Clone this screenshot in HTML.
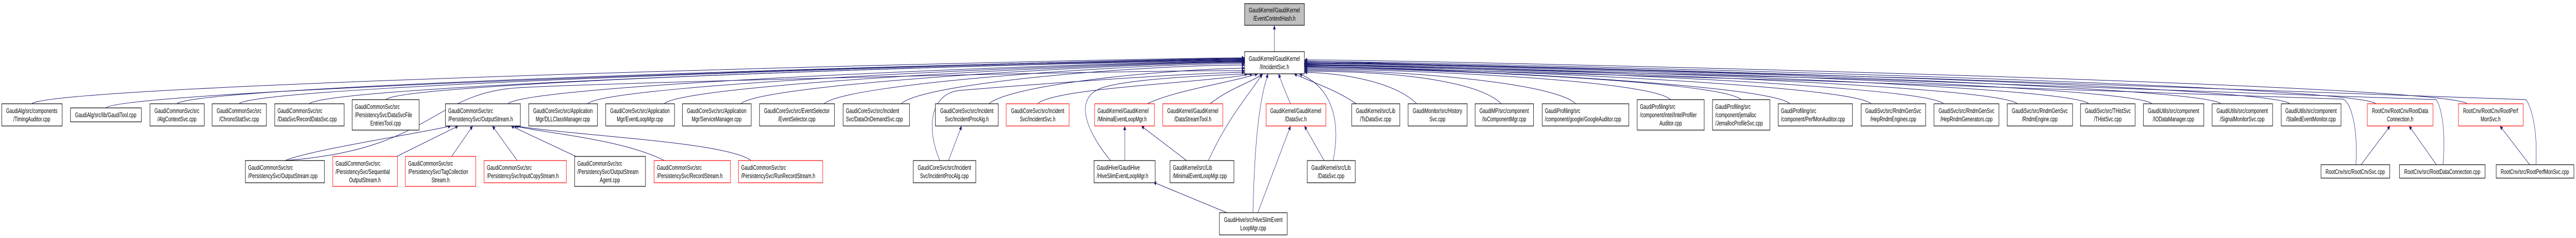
<!DOCTYPE html>
<html><head><meta charset="utf-8"><style>
html,body{margin:0;padding:0;background:#fff;width:100%;height:100%;overflow:hidden;}
svg{display:block;position:absolute;left:0;top:0;width:100%;height:100%;}
text{font-family:"Liberation Sans",Helvetica,Arial,sans-serif;font-size:13px;fill:#000;}
rect.n{fill:#fff;stroke:#000;stroke-width:1.2;}
rect.r{fill:#fff;stroke:#ff0000;stroke-width:1.2;}
path.e{fill:none;stroke:#191970;stroke-width:1;}
</style></head><body>
<svg viewBox="0 0 7455 461" preserveAspectRatio="none" xmlns="http://www.w3.org/2000/svg">
<defs><marker id="a" viewBox="0 0 10 10" refX="10" refY="5" markerWidth="10" markerHeight="8" markerUnits="userSpaceOnUse" orient="auto"><path d="M0,0 L10,5 L0,10 z" fill="#191970"/></marker></defs>
<g marker-end="url(#a)">
<path class="e" d="M92,201 C152,161 3300,112 3602,112"/>
<path class="e" d="M306,209 C366,170 3300,113 3602,113"/>
<path class="e" d="M512,201 C572,161 3300,114 3602,114"/>
<path class="e" d="M692,201 C752,161 3300,115 3602,115"/>
<path class="e" d="M895,201 C955,161 3300,116 3602,116"/>
<path class="e" d="M1116,193 C1176,155 3300,117 3602,117"/>
<path class="e" d="M1470,201 C1530,161 3300,118 3602,118"/>
<path class="e" d="M1700,201 C1760,161 3300,119 3602,119"/>
<path class="e" d="M1922,201 C1982,161 3300,120 3602,120"/>
<path class="e" d="M2144,201 C2204,161 3300,121 3602,121"/>
<path class="e" d="M2385,201 C2445,161 3300,123 3602,123"/>
<path class="e" d="M2608,201 C2668,161 3300,126 3602,126"/>
<path class="e" d="M2862,201 C2922,165 3350,135 3602,132"/>
<path class="e" d="M825,311 C1250,290 1250,180 1500,170 S3300,135 3602,137"/>
<path class="e" d="M2720,311 C2680,250 2690,180 2780,175 S3400,142 3602,140"/>
<path class="e" d="M3214,311 C3150,260 3100,190 3190,170 S3560,145 3610,143"/>
<path class="e" d="M3003,201 C3050,170 3500,160 3625,143"/>
<path class="e" d="M3320,201 C3400,175 3560,160 3640,143"/>
<path class="e" d="M3502,201 C3560,170 3620,160 3655,143"/>
<path class="e" d="M3497,311 C3560,220 3620,180 3653,143"/>
<path class="e" d="M3626,412 C3630,300 3640,200 3670,143"/>
<path class="e" d="M3735,201 C3720,180 3710,160 3700,143"/>
<path class="e" d="M3858,311 C3880,240 3860,170 3760,143"/>
<path class="e" d="M3925,201 C3870,175 3800,160 3745,143"/>
<path class="e" d="M4100,201 C4040,161 3900,142 3775,140"/>
<path class="e" d="M4345,201 C4285,161 4075,138 3775,138"/>
<path class="e" d="M4560,201 C4500,161 4075,136 3775,136"/>
<path class="e" d="M4835,193 C4775,155 4075,134 3775,134"/>
<path class="e" d="M5039,193 C4979,155 4075,132 3775,132"/>
<path class="e" d="M5180,201 C5120,161 4075,130 3775,130"/>
<path class="e" d="M5415,201 C5355,161 4075,129 3775,129"/>
<path class="e" d="M5625,201 C5565,161 4075,127 3775,127"/>
<path class="e" d="M5838,201 C5778,161 4075,126 3775,126"/>
<path class="e" d="M6045,201 C5985,161 4075,125 3775,125"/>
<path class="e" d="M6228,201 C6168,161 4075,123 3775,123"/>
<path class="e" d="M6427,201 C6367,161 4075,122 3775,122"/>
<path class="e" d="M6627,201 C6567,161 4075,121 3775,121"/>
<path class="e" d="M6876,201 C6816,161 4075,119 3775,119"/>
<path class="e" d="M7140,201 C7080,161 4075,116 3775,116"/>
<path class="e" d="M6818,319 C6825,240 6800,195 6780,192 S4100,130 3775,128"/>
<path class="e" d="M7070,319 C7080,240 7060,200 7050,193 S4100,125 3775,124"/>
<path class="e" d="M7339,319 C7345,240 7320,200 7310,193 S4100,120 3775,118"/>
<path class="e" d="M3688,100 L3688,49"/>
<path class="e" d="M825,311 C900,290 1200,260 1305,244"/>
<path class="e" d="M1148,303 L1326,244"/>
<path class="e" d="M1307,303 L1368,244"/>
<path class="e" d="M1497,311 L1425,244"/>
<path class="e" d="M1667,303 L1479,244"/>
<path class="e" d="M1923,311 C1800,270 1600,260 1487,244"/>
<path class="e" d="M2174,311 C2100,275 1700,265 1492,244"/>
<path class="e" d="M2745,311 L2783,244"/>
<path class="e" d="M3255,311 L3255,244"/>
<path class="e" d="M3434,311 L3303,244"/>
<path class="e" d="M3551,412 L3338,353"/>
<path class="e" d="M3640,412 L3735,244"/>
<path class="e" d="M3832,311 L3775,244"/>
<path class="e" d="M6833,319 L6917,244"/>
<path class="e" d="M7051,319 L6972,244"/>
<path class="e" d="M7321,319 L7235,244"/>
</g>

<rect x="3602" y="7" width="173" height="42" fill="#bfbfbf" stroke="#000" stroke-width="1.2"/>
<text x="3688" y="24" text-anchor="middle">GaudiKernel/GaudiKernel</text><text x="3688" y="40" text-anchor="middle">/EventContextHash.h</text>
<rect class="n" x="3602" y="100" width="173" height="43"/>
<text x="3688" y="118" text-anchor="middle">GaudiKernel/GaudiKernel</text><text x="3688" y="134" text-anchor="middle">/IIncidentSvc.h</text>

<g text-anchor="middle">
<rect class="n" x="5" y="201" width="175" height="43"/><text x="92" y="219">GaudiAlg/src/components</text><text x="92" y="235">/TimingAuditor.cpp</text>
<rect class="n" x="204" y="209" width="205" height="27"/><text x="306" y="227">GaudiAlg/src/lib/GaudiTool.cpp</text>
<rect class="n" x="434" y="201" width="157" height="43"/><text x="512" y="219">GaudiCommonSvc/src</text><text x="512" y="235">/AlgContextSvc.cpp</text>
<rect class="n" x="614" y="201" width="157" height="43"/><text x="692" y="219">GaudiCommonSvc/src</text><text x="692" y="235">/ChronoStatSvc.cpp</text>
<rect class="n" x="1530" y="201" width="199" height="43"/><text x="1629" y="219">GaudiCoreSvc/src/Application</text><text x="1629" y="235">Mgr/DLLClassManager.cpp</text>
<rect class="n" x="1753" y="201" width="199" height="43"/><text x="1852" y="219">GaudiCoreSvc/src/Application</text><text x="1852" y="235">Mgr/EventLoopMgr.cpp</text>
<rect class="n" x="1975" y="201" width="199" height="43"/><text x="2074" y="219">GaudiCoreSvc/src/Application</text><text x="2074" y="235">Mgr/ServiceManager.cpp</text>
<rect class="n" x="2198" y="201" width="217" height="43"/><text x="2306" y="219">GaudiCoreSvc/src/EventSelector</text><text x="2306" y="235">/EventSelector.cpp</text>
<rect class="n" x="2707" y="201" width="182" height="43"/><text x="2798" y="219">GaudiCoreSvc/src/Incident</text><text x="2798" y="235">Svc/IncidentProcAlg.h</text>
<rect class="r" x="2912" y="201" width="182" height="43"/><text x="3003" y="219">GaudiCoreSvc/src/Incident</text><text x="3003" y="235">Svc/IncidentSvc.h</text>
<rect class="r" x="3365" y="201" width="174" height="43"/><text x="3452" y="219">GaudiKernel/GaudiKernel</text><text x="3452" y="235">/DataStreamTool.h</text>
<rect class="r" x="3664" y="201" width="173" height="43"/><text x="3750" y="219">GaudiKernel/GaudiKernel</text><text x="3750" y="235">/DataSvc.h</text>
<rect class="n" x="3912" y="201" width="139" height="43"/><text x="3981" y="219">GaudiKernel/src/Lib</text><text x="3981" y="235">/TsDataSvc.cpp</text>
<rect class="n" x="4075" y="201" width="171" height="43"/><text x="4160" y="219">GaudiMonitor/src/History</text><text x="4160" y="235">Svc.cpp</text>
<rect class="n" x="4269" y="201" width="169" height="43"/><text x="4353" y="219">GaudiMP/src/component</text><text x="4353" y="235">/IoComponentMgr.cpp</text>
<rect class="n" x="5386" y="201" width="187" height="43"/><text x="5479" y="219">GaudiSvc/src/RndmGenSvc</text><text x="5479" y="235">/HepRndmEngines.cpp</text>
<rect class="n" x="5597" y="201" width="188" height="43"/><text x="5691" y="219">GaudiSvc/src/RndmGenSvc</text><text x="5691" y="235">/HepRndmGenerators.cpp</text>
<rect class="n" x="5809" y="201" width="189" height="43"/><text x="5903" y="219">GaudiSvc/src/RndmGenSvc</text><text x="5903" y="235">/RndmEngine.cpp</text>
<rect class="n" x="6021" y="201" width="158" height="43"/><text x="6100" y="219">GaudiSvc/src/THistSvc</text><text x="6100" y="235">/THistSvc.cpp</text>
<rect class="n" x="6203" y="201" width="175" height="43"/><text x="6290" y="219">GaudiUtils/src/component</text><text x="6290" y="235">/IODataManager.cpp</text>
<rect class="n" x="6402" y="201" width="175" height="43"/><text x="6489" y="219">GaudiUtils/src/component</text><text x="6489" y="235">/SignalMonitorSvc.cpp</text>
<rect class="n" x="6602" y="201" width="173" height="43"/><text x="6688" y="219">GaudiUtils/src/component</text><text x="6688" y="235">/StalledEventMonitor.cpp</text>
<rect class="r" x="6851" y="201" width="190" height="43"/><text x="6946" y="219">RootCnv/RootCnv/RootData</text><text x="6946" y="235">Connection.h</text>
<rect class="r" x="7115" y="201" width="187" height="43"/><text x="7208" y="219">RootCnv/RootCnv/RootPerf</text><text x="7208" y="235">MonSvc.h</text>
</g>
<g>
<rect class="n" x="795" y="201" width="201" height="43"/><text x="803" y="219">GaudiCommonSvc/src</text><text x="803" y="235">/DataSvc/RecordDataSvc.cpp</text>
<rect class="n" x="1019" y="193" width="194" height="59"/><text x="1027" y="211">GaudiCommonSvc/src</text><text x="1027" y="227">/PersistencySvc/DataSvcFile</text><text x="1116" y="243" text-anchor="middle">EntriesTool.cpp</text>
<rect class="n" x="1289" y="201" width="217" height="43"/><text x="1297" y="219">GaudiCommonSvc/src</text><text x="1297" y="235">/PersistencySvc/OutputStream.h</text>
<rect class="n" x="2440" y="201" width="192" height="43"/><text x="2448" y="219">GaudiCoreSvc/src/Incident</text><text x="2448" y="235">Svc/DataOnDemandSvc.cpp</text>
<rect class="r" x="3168" y="201" width="173" height="43"/><text x="3176" y="219">GaudiKernel/GaudiKernel</text><text x="3176" y="235">/MinimalEventLoopMgr.h</text>
<rect class="n" x="4463" y="201" width="251" height="43"/><text x="4471" y="219">GaudiProfiling/src</text><text x="4471" y="235">/component/google/GoogleAuditor.cpp</text>
<rect class="n" x="4738" y="193" width="194" height="59"/><text x="4746" y="211">GaudiProfiling/src</text><text x="4746" y="227">/component/intel/IntelProfiler</text><text x="4835" y="243" text-anchor="middle">Auditor.cpp</text>
<rect class="n" x="4956" y="193" width="166" height="59"/><text x="4964" y="211">GaudiProfiling/src</text><text x="4964" y="227">/component/jemalloc</text><text x="4964" y="243">/JemallocProfileSvc.cpp</text>
<rect class="n" x="5146" y="201" width="215" height="43"/><text x="5154" y="219">GaudiProfiling/src</text><text x="5154" y="235">/component/PerfMonAuditor.cpp</text>
</g>

<g>
<rect class="n" x="710" y="311" width="229" height="43"/><text x="718" y="329">GaudiCommonSvc/src</text><text x="718" y="345">/PersistencySvc/OutputStream.cpp</text>
<rect class="r" x="963" y="303" width="187" height="58"/><text x="971" y="321">GaudiCommonSvc/src</text><text x="971" y="337">/PersistencySvc/Sequential</text><text x="1056" y="353" text-anchor="middle">OutputStream.h</text>
<rect class="r" x="1173" y="303" width="204" height="58"/><text x="1181" y="321">GaudiCommonSvc/src</text><text x="1181" y="337">/PersistencySvc/TagCollection</text><text x="1275" y="353" text-anchor="middle">Stream.h</text>
<rect class="r" x="1401" y="311" width="238" height="43"/><text x="1409" y="329">GaudiCommonSvc/src</text><text x="1409" y="345">/PersistencySvc/InputCopyStream.h</text>
<rect class="n" x="1663" y="303" width="205" height="58"/><text x="1671" y="321">GaudiCommonSvc/src</text><text x="1671" y="337">/PersistencySvc/OutputStream</text><text x="1765" y="353" text-anchor="middle">Agent.cpp</text>
<rect class="r" x="1893" y="311" width="221" height="43"/><text x="1901" y="329">GaudiCommonSvc/src</text><text x="1901" y="345">/PersistencySvc/RecordStream.h</text>
<rect class="r" x="2137" y="311" width="244" height="43"/><text x="2145" y="329">GaudiCommonSvc/src</text><text x="2145" y="345">/PersistencySvc/RunRecordStream.h</text>
<rect class="n" x="3166" y="311" width="177" height="43"/><text x="3174" y="329">GaudiHive/GaudiHive</text><text x="3174" y="345">/HiveSlimEventLoopMgr.h</text>
<rect class="n" x="3386" y="311" width="185" height="43"/><text x="3394" y="329">GaudiKernel/src/Lib</text><text x="3394" y="345">/MinimalEventLoopMgr.cpp</text>
</g>
<g text-anchor="middle">
<rect class="n" x="2643" y="311" width="181" height="43"/><text x="2733" y="329">GaudiCoreSvc/src/Incident</text><text x="2733" y="345">Svc/IncidentProcAlg.cpp</text>
<rect class="n" x="3783" y="311" width="139" height="43"/><text x="3852" y="329">GaudiKernel/src/Lib</text><text x="3852" y="345">/DataSvc.cpp</text>
<rect class="n" x="6717" y="319" width="199" height="26"/><text x="6816" y="337">RootCnv/src/RootCnvSvc.cpp</text>
<rect class="n" x="6944" y="319" width="248" height="26"/><text x="7068" y="337">RootCnv/src/RootDataConnection.cpp</text>
<rect class="n" x="7224" y="319" width="225" height="26"/><text x="7336" y="337">RootCnv/src/RootPerfMonSvc.cpp</text>
<rect class="n" x="3529" y="412" width="196" height="43"/><text x="3627" y="430">GaudiHive/src/HiveSlimEvent</text><text x="3627" y="446">LoopMgr.cpp</text>
</g>
</svg>
</body></html>
